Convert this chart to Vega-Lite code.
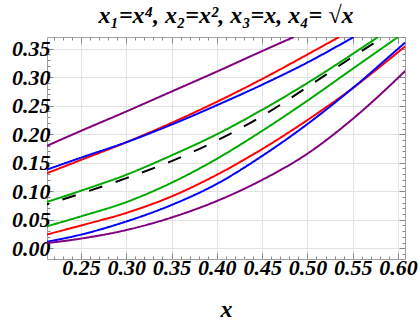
{
  "$schema": "https://vega.github.io/schema/vega-lite/v6.json",
  "width": 358,
  "height": 222,
  "autosize": {"type": "none"},
  "padding": {"left": 47, "top": 37, "right": 15, "bottom": 68},
  "background": "white",
  "title": {"text": "x₁=x⁴,  x₂=x², x₃=x,  x₄= √x", "font": "Liberation Serif", "fontSize": 24, "fontWeight": "bold", "fontStyle": "italic", "color": "black", "offset": 11, "dy": 21, "anchor": "middle", "baseline": "alphabetic", "frame": "group"},
  "config": {"view": {"stroke": "#a0a0a0", "strokeWidth": 1}},
  "data": {"values": [
    {"curve": "p1", "x": 0.20, "y": 0.171}, {"curve": "p1", "x": 0.25, "y": 0.206}, {"curve": "p1", "x": 0.30, "y": 0.240}, {"curve": "p1", "x": 0.35, "y": 0.275}, {"curve": "p1", "x": 0.40, "y": 0.310}, {"curve": "p1", "x": 0.45, "y": 0.346}, {"curve": "p1", "x": 0.485, "y": 0.3707},
    {"curve": "r1", "x": 0.20, "y": 0.124}, {"curve": "r1", "x": 0.25, "y": 0.155}, {"curve": "r1", "x": 0.30, "y": 0.186}, {"curve": "r1", "x": 0.35, "y": 0.220}, {"curve": "r1", "x": 0.40, "y": 0.257}, {"curve": "r1", "x": 0.45, "y": 0.297}, {"curve": "r1", "x": 0.50, "y": 0.340}, {"curve": "r1", "x": 0.535, "y": 0.3707},
    {"curve": "b1", "x": 0.20, "y": 0.131}, {"curve": "b1", "x": 0.25, "y": 0.159}, {"curve": "b1", "x": 0.30, "y": 0.186}, {"curve": "b1", "x": 0.35, "y": 0.217}, {"curve": "b1", "x": 0.40, "y": 0.251}, {"curve": "b1", "x": 0.45, "y": 0.287}, {"curve": "b1", "x": 0.50, "y": 0.326}, {"curve": "b1", "x": 0.551, "y": 0.3707},
    {"curve": "g1", "x": 0.20, "y": 0.075}, {"curve": "g1", "x": 0.25, "y": 0.101}, {"curve": "g1", "x": 0.30, "y": 0.129}, {"curve": "g1", "x": 0.35, "y": 0.163}, {"curve": "g1", "x": 0.40, "y": 0.200}, {"curve": "g1", "x": 0.45, "y": 0.243}, {"curve": "g1", "x": 0.50, "y": 0.290}, {"curve": "g1", "x": 0.55, "y": 0.341}, {"curve": "g1", "x": 0.578, "y": 0.3707},
    {"curve": "d", "x": 0.20, "y": 0.071}, {"curve": "d", "x": 0.25, "y": 0.096}, {"curve": "d", "x": 0.30, "y": 0.123}, {"curve": "d", "x": 0.35, "y": 0.153}, {"curve": "d", "x": 0.40, "y": 0.189}, {"curve": "d", "x": 0.45, "y": 0.232}, {"curve": "d", "x": 0.50, "y": 0.283}, {"curve": "d", "x": 0.55, "y": 0.336}, {"curve": "d", "x": 0.584, "y": 0.3707},
    {"curve": "g2", "x": 0.20, "y": 0.033}, {"curve": "g2", "x": 0.25, "y": 0.056}, {"curve": "g2", "x": 0.30, "y": 0.081}, {"curve": "g2", "x": 0.35, "y": 0.115}, {"curve": "g2", "x": 0.40, "y": 0.157}, {"curve": "g2", "x": 0.45, "y": 0.206}, {"curve": "g2", "x": 0.50, "y": 0.259}, {"curve": "g2", "x": 0.55, "y": 0.315}, {"curve": "g2", "x": 0.60, "y": 0.3707},
    {"curve": "r2", "x": 0.20, "y": 0.019}, {"curve": "r2", "x": 0.25, "y": 0.040}, {"curve": "r2", "x": 0.30, "y": 0.062}, {"curve": "r2", "x": 0.35, "y": 0.091}, {"curve": "r2", "x": 0.40, "y": 0.129}, {"curve": "r2", "x": 0.45, "y": 0.174}, {"curve": "r2", "x": 0.50, "y": 0.225}, {"curve": "r2", "x": 0.55, "y": 0.281}, {"curve": "r2", "x": 0.60, "y": 0.344}, {"curve": "r2", "x": 0.62, "y": 0.370},
    {"curve": "b2", "x": 0.20, "y": 0.008}, {"curve": "b2", "x": 0.25, "y": 0.024}, {"curve": "b2", "x": 0.30, "y": 0.047}, {"curve": "b2", "x": 0.35, "y": 0.076}, {"curve": "b2", "x": 0.40, "y": 0.113}, {"curve": "b2", "x": 0.45, "y": 0.162}, {"curve": "b2", "x": 0.50, "y": 0.218}, {"curve": "b2", "x": 0.55, "y": 0.281}, {"curve": "b2", "x": 0.60, "y": 0.350}, {"curve": "b2", "x": 0.615, "y": 0.3707},
    {"curve": "q2", "x": 0.20, "y": 0.007}, {"curve": "q2", "x": 0.25, "y": 0.017}, {"curve": "q2", "x": 0.30, "y": 0.032}, {"curve": "q2", "x": 0.35, "y": 0.054}, {"curve": "q2", "x": 0.40, "y": 0.083}, {"curve": "q2", "x": 0.45, "y": 0.120}, {"curve": "q2", "x": 0.50, "y": 0.166}, {"curve": "q2", "x": 0.55, "y": 0.227}, {"curve": "q2", "x": 0.60, "y": 0.299}, {"curve": "q2", "x": 0.62, "y": 0.330}
  ]},
  "layer": [
    {
      "mark": {"type": "line", "clip": true, "strokeWidth": 2, "interpolate": "monotone"},
      "encoding": {
        "x": {"field": "x", "type": "quantitative", "scale": {"domain": [0.2125, 0.6077], "nice": false, "zero": false},
          "axis": {"orient": "bottom", "values": [0.22,0.23,0.24,0.25,0.26,0.27,0.28,0.29,0.30,0.31,0.32,0.33,0.34,0.35,0.36,0.37,0.38,0.39,0.40,0.41,0.42,0.43,0.44,0.45,0.46,0.47,0.48,0.49,0.50,0.51,0.52,0.53,0.54,0.55,0.56,0.57,0.58,0.59,0.60],
            "format": ".2f", "labelExpr": "abs(datum.value*20 - round(datum.value*20)) < 0.001 ? datum.label : ''",
            "grid": true, "gridColor": "#e2e2e2", "gridWidth": 1,
            "gridOpacity": {"condition": {"test": "abs(datum.value*20 - round(datum.value*20)) < 0.001", "value": 1}, "value": 0},
            "ticks": true, "tickColor": "#888888",
            "tickSize": {"condition": {"test": "abs(datum.value*20 - round(datum.value*20)) < 0.001", "value": -6}, "value": -3},
            "domain": false, "labelFont": "Liberation Serif", "labelFontSize": 22, "labelFontWeight": "bold", "labelFontStyle": "italic", "labelColor": "black",
            "labelPadding": 4, "labelOverlap": false, "labelFlush": false, "labelBound": false,
            "title": "x", "titleFont": "Liberation Serif", "titleFontSize": 24, "titleFontWeight": "bold", "titleFontStyle": "italic", "titleColor": "black", "titlePadding": 16}},
        "y": {"field": "y", "type": "quantitative", "scale": {"domain": [-0.0188, 0.3707], "nice": false, "zero": false},
          "axis": {"orient": "left", "values": [0.00,0.01,0.02,0.03,0.04,0.05,0.06,0.07,0.08,0.09,0.10,0.11,0.12,0.13,0.14,0.15,0.16,0.17,0.18,0.19,0.20,0.21,0.22,0.23,0.24,0.25,0.26,0.27,0.28,0.29,0.30,0.31,0.32,0.33,0.34,0.35],
            "format": ".2f", "labelExpr": "abs(datum.value*20 - round(datum.value*20)) < 0.001 ? datum.label : ''",
            "grid": true, "gridColor": "#e2e2e2", "gridWidth": 1,
            "gridOpacity": {"condition": {"test": "abs(datum.value*20 - round(datum.value*20)) < 0.001", "value": 1}, "value": 0},
            "ticks": true, "tickColor": "#888888",
            "tickSize": {"condition": {"test": "abs(datum.value*20 - round(datum.value*20)) < 0.001", "value": -6}, "value": -3},
            "domain": false, "labelFont": "Liberation Serif", "labelFontSize": 22, "labelFontWeight": "bold", "labelFontStyle": "italic", "labelColor": "black",
            "labelPadding": 3, "labelOverlap": false, "labelFlush": false, "labelBound": false, "title": null}},
        "color": {"field": "curve", "type": "nominal", "legend": null,
          "scale": {"domain": ["p1","r1","b1","g1","d","g2","r2","b2","q2"], "range": ["#800080","#ff0000","#0000ff","#00aa00","#000000","#00aa00","#ff0000","#0000ff","#800080"]}},
        "strokeDash": {"field": "curve", "type": "nominal", "legend": null,
          "scale": {"domain": ["p1","r1","b1","g1","d","g2","r2","b2","q2"], "range": [[1,0],[1,0],[1,0],[1,0],[14,14],[1,0],[1,0],[1,0],[1,0]]}}
      }
    },
    {
      "mark": {"type": "line", "opacity": 0, "clip": true},
      "encoding": {
        "x": {"field": "x", "type": "quantitative",
          "axis": {"orient": "top", "values": [0.22,0.23,0.24,0.25,0.26,0.27,0.28,0.29,0.30,0.31,0.32,0.33,0.34,0.35,0.36,0.37,0.38,0.39,0.40,0.41,0.42,0.43,0.44,0.45,0.46,0.47,0.48,0.49,0.50,0.51,0.52,0.53,0.54,0.55,0.56,0.57,0.58,0.59,0.60],
            "labels": false, "grid": false, "domain": false, "title": null, "tickColor": "#888888", "minExtent": 0, "maxExtent": 0,
            "tickSize": {"condition": {"test": "abs(datum.value*20 - round(datum.value*20)) < 0.001", "value": -6}, "value": -3}}},
        "y": {"field": "y", "type": "quantitative",
          "axis": {"orient": "right", "values": [-0.01,0.00,0.01,0.02,0.03,0.04,0.05,0.06,0.07,0.08,0.09,0.10,0.11,0.12,0.13,0.14,0.15,0.16,0.17,0.18,0.19,0.20,0.21,0.22,0.23,0.24,0.25,0.26,0.27,0.28,0.29,0.30,0.31,0.32,0.33,0.34,0.35,0.36,0.37],
            "labels": false, "grid": false, "domain": false, "title": null, "tickColor": "#888888", "minExtent": 0, "maxExtent": 0,
            "tickSize": {"condition": {"test": "abs(datum.value*20 - round(datum.value*20)) < 0.001", "value": -6}, "value": -3}}},
        "detail": {"field": "curve", "type": "nominal"}
      }
    }
  ],
  "resolve": {"axis": {"x": "independent", "y": "independent"}}
}
